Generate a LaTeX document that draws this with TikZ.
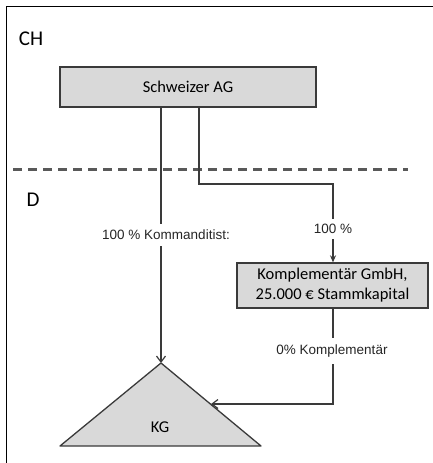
\documentclass[tikz,border=0pt]{standalone}
\usepackage{fontspec}
\setmainfont{Carlito}
\newfontfamily\labelfont{Liberation Sans}
\usetikzlibrary{arrows.meta}
\definecolor{boxfill}{HTML}{D9D9D9}
\definecolor{linec}{HTML}{3A3A3A}
\begin{document}
\begin{tikzpicture}[x=1pt,y=-1pt,
  entity/.style={draw=linec,line width=1.3pt,fill=boxfill,inner sep=0pt,font=\fontsize{16.5}{20}\selectfont,align=center},
  region/.style={font=\fontsize{21}{24}\selectfont,inner sep=0pt},
  conn/.style={draw=linec,line width=1.2pt},
  lbl/.style={fill=white,font=\labelfont\fontsize{13.5}{16}\selectfont,text=black!85,inner xsep=1pt}
]
\useasboundingbox (0,0) rectangle (433,463);
% frame
\draw[line width=1.5pt] (6.5,463) -- (6.5,6.5) -- (433,6.5);
% region labels
\node[region] (ch) at (31,39) {CH};
\node[region] (d) at (33,200) {D};
% border line
\draw[draw=black!65,line width=3pt,dash pattern=on 9pt off 6pt] (13,169) -- (408,169);
% boxes
\node[entity,minimum width=256pt,minimum height=40pt] (sag) at (188,87) {Schweizer AG};
\node[entity,minimum width=191pt,minimum height=45pt] (gmbh) at (332.5,285.5) {Komplementär GmbH,\\25.000 € Stammkapital};
% triangle KG
\coordinate (apex) at (161,363);
\coordinate (bl) at (60,446);
\coordinate (br) at (261,446);
\draw[draw=linec,line width=1.3pt,fill=boxfill,line join=round] (apex) -- (bl) -- (br) -- cycle;
\node[font=\fontsize{16.5}{20}\selectfont] (kg) at (160,427) {KG};
% connectors
\coordinate (kgedge) at (211,404);
\coordinate (s1) at (161,107);
\coordinate (s2) at (199,107);
\coordinate (t2) at (199,184);
\coordinate (t3) at (333,184);
\coordinate (g1) at (333,404);
\draw[conn,-{Straight Barb[length=6pt,width=9pt]}] (s1) -- (apex)
  node[lbl,pos=0.5,xshift=5pt,inner ysep=6pt] (l1) {100 \% Kommanditist:};
\draw[conn,-{Stealth[length=7pt,width=6pt]}] (s2) -- (t2) -- (t3) -- (t3 |- gmbh.north);
\node[lbl,inner ysep=5pt] (l2) at (333,229) {100 \%};
\draw[conn,-{Straight Barb[length=6pt,width=9pt]}] (gmbh.south -| g1) -- (g1) -- (kgedge);
\node[lbl,inner ysep=7pt] (l3) at (332,351) {0\% Komplementär};
\end{tikzpicture}
\end{document}
